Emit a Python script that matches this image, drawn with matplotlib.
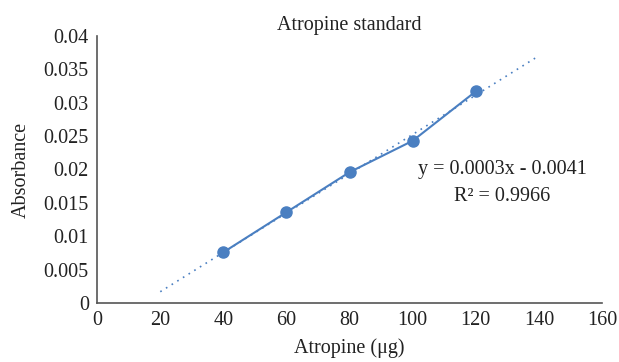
import matplotlib
matplotlib.use("Agg")
import matplotlib.pyplot as plt
import numpy as np

x_vals = [40, 60, 80, 100, 120]
absorbance = [0.0076, 0.0136, 0.0196, 0.0243, 0.0317]
x_ticks = [0, 20, 40, 60, 80, 100, 120, 140, 160]
y_ticks = [0, 0.005, 0.01, 0.015, 0.02, 0.025, 0.03, 0.035, 0.04]
y_tick_labels = ["0", "0.005", "0.01", "0.015", "0.02", "0.025", "0.03", "0.035", "0.04"]
trend_range = [20, 140]
eq_text = "y = 0.0003x - 0.0041"
r2_text = "R² = 0.9966"

plt.rcParams['font.family'] = ['Liberation Serif', 'DejaVu Serif']

fs = 14.5
fig = plt.figure(figsize=(6.19, 3.62), dpi=100)
ax = fig.add_axes([0.157, 0.163, 0.8155, 0.7376])
color = "#4a7fc1"

coef = np.polyfit(x_vals, absorbance, 1)
tx = np.array(trend_range, dtype=float)
ax.plot(tx, np.polyval(coef, tx), linestyle=(0, (1, 3)), color=color, lw=1.2)
ax.plot(x_vals, absorbance, color=color, lw=1.5, marker='o', markersize=8)

ax.set_xlim(0, 160)
ax.set_ylim(0, 0.04)
ax.set_xticks(x_ticks)
ax.set_yticks(y_ticks)
ax.set_yticklabels(y_tick_labels)
ax.tick_params(length=0, labelsize=fs, colors="#222222", pad=6)
for s in ["top", "right"]:
    ax.spines[s].set_visible(False)
for s in ["left", "bottom"]:
    ax.spines[s].set_color("#555555")
    ax.spines[s].set_linewidth(1.2)

ax.set_title("Atropine standard", fontsize=fs, color="#222222", pad=4)
ax.set_xlabel("Atropine (μg)", fontsize=fs, color="#222222", labelpad=6)
ax.set_ylabel("Absorbance", fontsize=fs, color="#222222", labelpad=9)

ax.text(128.3, 0.0200, eq_text, fontsize=fs, ha='center', va='center', color="#222222")
ax.text(128.3, 0.0160, r2_text, fontsize=fs, ha='center', va='center', color="#222222")

fig.savefig("out.png", dpi=100)
